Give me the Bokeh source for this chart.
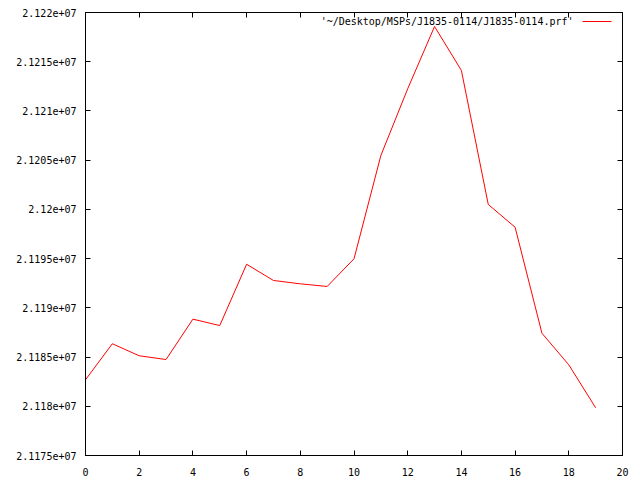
from bokeh.plotting import figure
from bokeh.models import (FixedTicker, LinearAxis, Range1d, Label, BoxAnnotation,
                          CustomJSTickFormatter)
from bokeh.embed import file_html
from bokeh.resources import INLINE

# Data
x_vals = list(range(20))
y_vals = [21182690, 21186350, 21185130, 21184750, 21188850, 21188200, 21194430,
          21192780, 21192440, 21192170, 21194980, 21205470, 21212250, 21218580,
          21214110, 21200500, 21198190, 21187420, 21184210, 21179850]
series_name = "'~/Desktop/MSPs/J1835-0114/J1835-0114.prf'"

x_ticks = [0, 2, 4, 6, 8, 10, 12, 14, 16, 18, 20]
y_ticks = [21175000, 21180000, 21185000, 21190000, 21195000, 21200000,
           21205000, 21210000, 21215000, 21220000]
y_tick_labels = ["2.1175e+07", "2.118e+07", "2.1185e+07", "2.119e+07", "2.1195e+07",
                 "2.12e+07", "2.1205e+07", "2.121e+07", "2.1215e+07", "2.122e+07"]

FONT = "DejaVu Sans Mono"
FS = "10px"

p = figure(width=640, height=480, output_backend="svg", toolbar_location=None,
           x_range=Range1d(0, 20), y_range=Range1d(21175000, 21220000),
           frame_width=537, frame_height=443,
           min_border_left=85, min_border_right=18, min_border_top=12,
           min_border_bottom=25)
p.background_fill_color = "white"
p.border_fill_color = "white"
p.outline_line_color = "black"
p.outline_line_width = 1
p.xgrid.visible = False
p.ygrid.visible = False

p.line(x_vals, y_vals, line_color="#ff0000", line_width=1)

def style(ax, show_labels=True):
    ax.major_tick_in = 5
    ax.major_tick_out = 0
    ax.minor_tick_line_color = None
    ax.axis_line_color = "black"
    ax.major_tick_line_color = "black"
    ax.major_label_text_font = FONT
    ax.major_label_text_font_size = FS if show_labels else "0px"
    ax.major_label_text_color = "black"
    if not show_labels:
        ax.major_label_standoff = 0

xa = p.xaxis[0]
xa.ticker = FixedTicker(ticks=x_ticks)
style(xa)
xa.major_label_standoff = 12

ya = p.yaxis[0]
ya.ticker = FixedTicker(ticks=y_ticks)
ya.major_label_overrides = {t: l for t, l in zip(y_ticks, y_tick_labels)}
style(ya)
ya.major_label_standoff = 9

top = LinearAxis(ticker=FixedTicker(ticks=x_ticks),
                 formatter=CustomJSTickFormatter(code="return ''"))
style(top, False)
p.add_layout(top, "above")

right = LinearAxis(ticker=FixedTicker(ticks=y_ticks),
                   formatter=CustomJSTickFormatter(code="return ''"))
style(right, False)
p.add_layout(right, "right")

# gnuplot-style key: text followed by line sample
p.add_layout(Label(x=488, y=434, x_units="screen", y_units="screen",
                   text=series_name, text_align="right", text_baseline="middle",
                   text_font=FONT, text_font_size=FS, text_color="black"))
p.add_layout(BoxAnnotation(left=497, right=526, bottom=433.5, top=434.5,
                           left_units="screen", right_units="screen",
                           top_units="screen", bottom_units="screen",
                           fill_color="#ff0000", fill_alpha=1, line_color=None))

open("out.html", "w").write(file_html(p, INLINE))
